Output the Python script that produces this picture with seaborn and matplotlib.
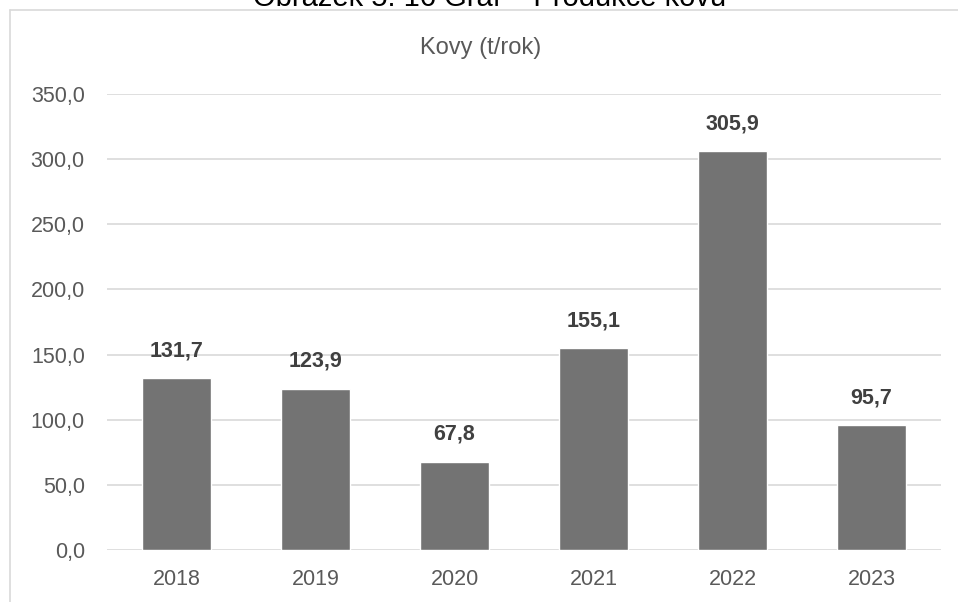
import matplotlib
matplotlib.use("Agg")
import matplotlib.pyplot as plt
from matplotlib.lines import Line2D
import seaborn as sns
import pandas as pd

years = ["2018", "2019", "2020", "2021", "2022", "2023"]
values = [131.7, 123.9, 67.8, 155.1, 305.9, 95.7]
chart_title = "Kovy (t/rok)"
caption = "Obrázek 5. 16 Graf – Produkce kovů"
yticks = [0, 50, 100, 150, 200, 250, 300, 350]

sns.set_theme(style="white")
plt.rcParams["font.family"] = ["Liberation Sans", "DejaVu Sans"]

df = pd.DataFrame({"year": years, "value": values})

W, H = 958, 602
fig = plt.figure(figsize=(W / 100, H / 100), dpi=100)
ax = fig.add_axes([107 / W, 1 - 550 / H, (941 - 107) / W, (550 - 94) / H])

sns.barplot(data=df, x="year", y="value", color="#737373", saturation=1,
            width=0.5, ax=ax, zorder=3)

ax.set_ylim(0, 350)
ax.set_xlim(-0.5, len(years) - 0.5)
ax.set_yticks(yticks)
ax.set_yticklabels([f"{v:.1f}".replace(".", ",") for v in yticks])
ax.yaxis.grid(True, color="#d9d9d9", linewidth=1.2, zorder=0)
ax.xaxis.grid(False)
for s in ax.spines.values():
    s.set_visible(False)
ax.tick_params(axis="both", length=0, labelsize=15.5, labelcolor="#595959")
ax.tick_params(axis="y", pad=16)
ax.tick_params(axis="x", pad=14)
ax.set_xlabel("")
ax.set_ylabel("")

for cont in ax.containers:
    labels = [f"{v:.1f}".replace(".", ",") for v in values]
    ax.bar_label(cont, labels=labels, padding=12, fontsize=15.5,
                 fontweight="bold", color="#404040")

fig.text(481 / W, 1 - 48 / H, chart_title, ha="center", va="center",
         fontsize=17, color="#595959")
fig.text(490 / W, 1 - 6 / H, caption, ha="center", va="baseline",
         fontsize=21, color="#000000")

# chart frame (top and left edge)
fig.add_artist(Line2D([10 / W, 1], [1 - 10 / H, 1 - 10 / H], transform=fig.transFigure,
                      color="#d9d9d9", linewidth=1.2))
fig.add_artist(Line2D([10 / W, 10 / W], [0, 1 - 10 / H], transform=fig.transFigure,
                      color="#d9d9d9", linewidth=1.2))

fig.savefig("out.png", dpi=100, facecolor="white")
